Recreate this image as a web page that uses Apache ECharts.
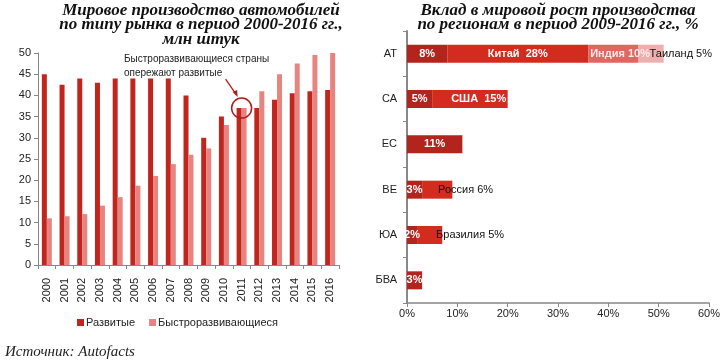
<!DOCTYPE html>
<html><head><meta charset="utf-8">
<script src="https://cdn.jsdelivr.net/npm/echarts@6/dist/echarts.min.js"></script>
<style>html,body{margin:0;padding:0;background:#fff}#c{width:724px;height:363px}</style>
</head><body><div id="c"></div>
<script>
const years = ['2000','2001','2002','2003','2004','2005','2006','2007','2008','2009','2010','2011','2012','2013','2014','2015','2016'];
const developed = [45,42.5,44,43,44,44,44,44,40,30,35,37,37,39,40.5,41,41.3];
const emerging = [11,11.5,12,14,16,18.7,21,23.8,26,27.5,33,37,41,45,47.5,49.5,50];
const yTicksLeft = [0,5,10,15,20,25,30,35,40,45,50];

const regions = ['АТ','СА','ЕС','ВЕ','ЮА','БВА'];
const seg1 = [8,5,11,3,2,3];
const seg2 = [28,15,null,6,5,null];
const seg2Names = ['Китай','США','','Россия','Бразилия',''];
const seg3 = [10,null,null,null,null,null];
const seg3Names = ['Индия','','','','',''];
const seg4 = [5,null,null,null,null,null];
const seg4Names = ['Таиланд','','','','',''];
const xTicksRight = [0,10,20,30,40,50,60];

const FONT = 'Liberation Sans';
const SERIF = 'Liberation Serif';
const cDev = '#c0261d', cEm = '#e8847f';
const cS1 = '#b3241c', cS2 = '#d42b1f', cS3 = '#e06660', cS4 = '#eeb0ae';

const chart = echarts.init(document.getElementById('c'), null, {renderer:'canvas'});

function seg2Label(i){
  const n = seg2Names[i];
  if (n === 'Китай') return {show:true, position:'inside', formatter: n+'  '+seg2[i]+'%', color:'#fff', fontWeight:'bold'};
  if (n === 'США') return {show:true, position:[19,'50%'], verticalAlign:'middle', align:'left', formatter: n+'  '+seg2[i]+'%', color:'#fff', fontWeight:'bold'};
  if (n === 'Россия') return {show:true, position:[16,'50%'], verticalAlign:'middle', align:'left', formatter: n+' '+seg2[i]+'%', color:'#111'};
  if (n === 'Бразилия') return {show:true, position:[19,'50%'], verticalAlign:'middle', align:'left', formatter: n+' '+seg2[i]+'%', color:'#111'};
  return {show:false};
}

const option = {
  animation:false,
  textStyle:{fontFamily:FONT},
  title:[
    {text:'Мировое производство автомобилей\nпо типу рынка в период 2000-2016 гг.,\nмлн штук', left:201, top:3, padding:0, textAlign:'center',
     textStyle:{fontFamily:SERIF, fontStyle:'italic', fontWeight:'bold', fontSize:17, lineHeight:14.5, color:'#111'}},
    {text:'Вклад в мировой рост производства\nпо регионам в период 2009-2016 гг., %', left:558, top:3, padding:0, textAlign:'center',
     textStyle:{fontFamily:SERIF, fontStyle:'italic', fontWeight:'bold', fontSize:17, lineHeight:14.5, color:'#111'}}
  ],
  legend:{data:['Развитые','Быстроразвивающиеся'], left:72, top:312, itemWidth:7, itemHeight:7, itemGap:14, icon:'rect',
    textStyle:{fontFamily:FONT, fontSize:11, color:'#222', padding:[0,0,0,-3]}},
  grid:[
    {left:38, top:53, width:301, height:212},
    {left:407, top:31, width:302, height:272}
  ],
  xAxis:[
    {type:'category', gridIndex:0, data:years,
     axisLine:{lineStyle:{color:'#888'}}, axisTick:{show:true, lineStyle:{color:'#888'}, length:4},
     axisLabel:{rotate:90, fontSize:11, color:'#222', margin:13, interval:0}},
    {type:'value', gridIndex:1, min:0, max:60, interval:10,
     axisLine:{show:true, lineStyle:{color:'#888', width:1.5}}, axisTick:{show:true, length:4, lineStyle:{color:'#888'}},
     splitLine:{show:false},
     axisLabel:{formatter:'{value}%', fontSize:11, color:'#222', margin:5}}
  ],
  yAxis:[
    {type:'value', gridIndex:0, min:0, max:50, interval:5,
     axisLine:{show:true, lineStyle:{color:'#888'}}, axisTick:{show:true, length:4, lineStyle:{color:'#888'}},
     splitLine:{show:false}, axisLabel:{fontSize:11, color:'#222', margin:7}},
    {type:'category', gridIndex:1, data:regions, inverse:true,
     axisLine:{lineStyle:{color:'#888', width:2}}, axisTick:{show:true, length:4, lineStyle:{color:'#888'}},
     axisLabel:{fontSize:11, color:'#222', margin:10}}
  ],
  series:[
    {name:'Развитые', type:'bar', xAxisIndex:0, yAxisIndex:0, data:developed, barWidth:5, barGap:'0%', itemStyle:{color:cDev}},
    {name:'Быстроразвивающиеся', type:'bar', xAxisIndex:0, yAxisIndex:0, data:emerging, barWidth:5, barGap:'0%', itemStyle:{color:cEm}},
    {name:'s1', type:'bar', xAxisIndex:1, yAxisIndex:1, stack:'r', barWidth:18, itemStyle:{color:cS1},
     data: seg1.map(v=>({value:v})),
     label:{show:true, position:'inside', formatter:p=>p.value+'%', color:'#fff', fontWeight:'bold', fontSize:11}},
    {name:'s2', type:'bar', xAxisIndex:1, yAxisIndex:1, stack:'r', barWidth:18, itemStyle:{color:cS2},
     data: seg2.map((v,i)=> v==null ? '-' : ({value:v, label:seg2Label(i)})),
     label:{fontSize:11}},
    {name:'s3', type:'bar', xAxisIndex:1, yAxisIndex:1, stack:'r', barWidth:18, itemStyle:{color:cS3},
     data: seg3.map((v,i)=> v==null ? '-' : ({value:v, label:{show:true, position:[2,'50%'], verticalAlign:'middle', align:'left', formatter:seg3Names[i]+' '+v+'%', color:'#fbeaea', fontWeight:'bold'}})),
     label:{fontSize:11}},
    {name:'s4', type:'bar', xAxisIndex:1, yAxisIndex:1, stack:'r', barWidth:18, itemStyle:{color:cS4},
     data: seg4.map((v,i)=> v==null ? '-' : ({value:v, label:{show:true, position:[11,'50%'], verticalAlign:'middle', align:'left', formatter:seg4Names[i]+' '+v+'%', color:'#111'}})),
     label:{fontSize:11}}
  ]
};
chart.setOption(option);

// annotation anchored to the 2011 crossover
const idx = years.indexOf('2011');
const p = chart.convertToPixel({gridIndex:0}, [idx, developed[idx]]);
const cx = p[0], cy = p[1];
chart.setOption({
  graphic:[
    {type:'text', left:124, top:52, style:{text:'Быстроразвивающиеся страны\nопережают развитые', font:'10px "Liberation Sans"', fill:'#222', lineHeight:14}},
    {type:'circle', shape:{cx:cx, cy:cy, r:10}, style:{fill:'none', stroke:'#b01c18', lineWidth:1.5}, z:100},
    {type:'line', shape:{x1:cx-16, y1:cy-29, x2:cx-5, y2:cy-13}, style:{stroke:'#b01c18', lineWidth:1.3}, z:100},
    {type:'polygon', shape:{points:[[cx-4,cy-11],[cx-9,cy-16],[cx-4.5,cy-18]]}, style:{fill:'#b01c18'}, z:100},
    {type:'text', left:5, top:345, style:{text:'Источник: Autofacts', font:'italic 15px "Liberation Serif"', fill:'#222'}}
  ]
});
</script></body></html>
